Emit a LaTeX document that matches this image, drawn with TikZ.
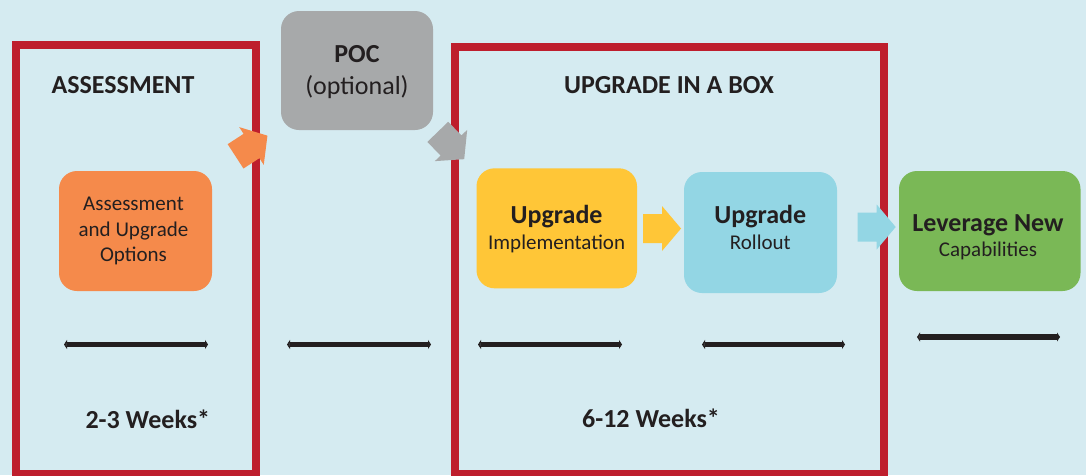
\documentclass[tikz,border=0pt]{standalone}
\usepackage{fontspec}
\setmainfont{Carlito}
\usetikzlibrary{arrows.meta}
\definecolor{bg}{RGB}{213,235,241}
\definecolor{redc}{RGB}{190,30,45}
\definecolor{orangec}{RGB}{245,138,75}
\definecolor{grayc}{RGB}{167,169,170}
\definecolor{yellowc}{RGB}{255,198,55}
\definecolor{bluec}{RGB}{147,214,228}
\definecolor{greenc}{RGB}{122,184,86}
\definecolor{txtc}{RGB}{35,31,32}
\begin{document}
\begin{tikzpicture}[x=1pt,y=-1pt,
  frame/.style={draw=redc,line width=8pt},
  card/.style={rectangle,rounded corners=18pt,inner sep=0pt,draw=none},
  boldtext/.style={font=\fontsize{26}{30}\selectfont\bfseries,text=txtc,inner sep=0pt,anchor=base},
  regtext/.style={font=\fontsize{21}{25}\selectfont,text=txtc,inner sep=0pt,anchor=base},
  poctext/.style={font=\fontsize{26}{30}\selectfont,text=txtc,inner sep=0pt,anchor=base},
  dimline/.style={line width=5.5pt,draw=txtc,{Triangle[length=3pt,width=9pt]}-{Triangle[length=3pt,width=9pt]}},
  blockarrow/.pic={\fill[pic actions] (-19,-14.5) -- (0,-14.5) -- (0,-22.5) -- (19,0) -- (0,22.5) -- (0,14.5) -- (-19,14.5) -- cycle;}
]
\useasboundingbox (0,0) rectangle (1086,475);
\fill[bg] (0,0) rectangle (1086,475);

% phase frames
\draw[frame] (16,45) rectangle (256,474);
\draw[frame] (455,47) rectangle (884,474);

% cards
\node[card,fill=orangec,minimum width=153pt,minimum height=120pt] (assess) at (135.5,231) {};
\node[card,fill=grayc,minimum width=152pt,minimum height=119pt] (poc) at (357,70.5) {};
\node[card,fill=yellowc,minimum width=160.5pt,minimum height=120pt] (impl) at (556.75,228.3) {};
\node[card,fill=bluec,minimum width=153pt,minimum height=121pt] (roll) at (760.5,232.5) {};
\node[card,fill=greenc,minimum width=181.5pt,minimum height=120pt] (lev) at (989.75,231) {};

% titles
\node[boldtext] (t1) at (123,93.3) {ASSESSMENT};
\node[boldtext] (t2) at (669,93) {UPGRADE IN A BOX};

% card texts
\node[boldtext] (pocA) at (357,62.3) {POC};
\node[poctext] (pocB) at (357,94.3) {(optional)};
\node[regtext] (asA) at (133.5,210.7) {Assessment};
\node[regtext] (asB) at (133.5,236) {and Upgrade};
\node[regtext] (asC) at (133.5,261.7) {Options};
\node[boldtext] (imA) at (556.6,223.3) {Upgrade};
\node[regtext] (imB) at (556.6,249.3) {Implementation};
\node[boldtext] (roA) at (760.3,223.3) {Upgrade};
\node[regtext] (roB) at (760.3,249.3) {Rollout};
\node[boldtext] (leA) at (988,231) {Leverage New};
\node[regtext] (leB) at (988,256) {Capabilities};

% block arrows
\pic[fill=orangec,rotate=33] (a1) at (251.5,146) {blockarrow};
\pic[fill=grayc,rotate=-46] (a2) at (451,145.5) {blockarrow};
\pic[fill=yellowc] (a3) at (662,228.5) {blockarrow};
\pic[fill=bluec] (a4) at (876.7,227) {blockarrow};

% duration lines
\coordinate (d1a) at (64,344.5);  \coordinate (d1b) at (208,344.5);
\coordinate (d2a) at (287,344.5); \coordinate (d2b) at (431,344.5);
\coordinate (d3a) at (478,344.5); \coordinate (d3b) at (622,344.5);
\coordinate (d4a) at (702,344.5); \coordinate (d4b) at (845,344.5);
\coordinate (d5a) at (917,337); \coordinate (d5b) at (1060,337);
\draw[dimline] (d1a) -- (d1b);
\draw[dimline] (d2a) -- (d2b);
\draw[dimline] (d3a) -- (d3b);
\draw[dimline] (d4a) -- (d4b);
\draw[dimline] (d5a) -- (d5b);

% durations
\node[boldtext] (w1) at (147.8,428.3) {2-3 Weeks*};
\node[boldtext] (w2) at (651,427.3) {6-12 Weeks*};
\end{tikzpicture}
\end{document}
